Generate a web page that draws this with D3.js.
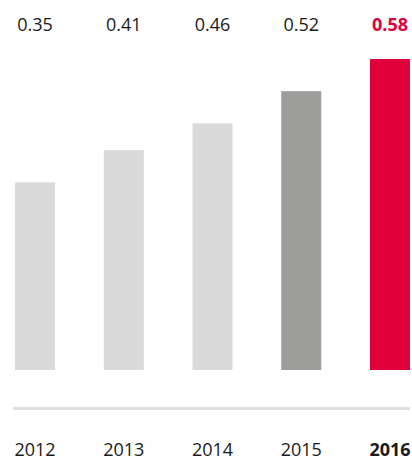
<!DOCTYPE html>
<html>
<head>
<meta charset="utf-8">
<script src="https://cdn.jsdelivr.net/npm/d3@7"></script>
<style>
  html, body { margin: 0; padding: 0; background: #fff; }
  svg { display: block; font-family: "Open Sans", sans-serif; }
</style>
</head>
<body>
<svg id="chart" width="412" height="460"></svg>
<script>
// Dividend per share by year
const years = ["2012", "2013", "2014", "2015", "2016"];
const values = [0.35, 0.41, 0.46, 0.52, 0.58];
const valueLabels = ["0.35", "0.41", "0.46", "0.52", "0.58"];

const colorFor = (i) => i === 4 ? "#e0003c" : (i === 3 ? "#9d9d9c" : "#dadada");
const textColor = (i) => i === 4 ? "#e0003c" : "#1a1a1a";

const svg = d3.select("#chart");

const x = d3.scaleBand()
  .domain(years)
  .range([15, 410])
  .paddingInner(0.549)
  .paddingOuter(0);

const y = d3.scaleLinear()
  .domain([0, 0.58])
  .range([370, 59]);

// bars
svg.selectAll("rect.bar")
  .data(values)
  .join("rect")
  .attr("class", "bar")
  .attr("x", (d, i) => x(years[i]))
  .attr("width", x.bandwidth())
  .attr("y", d => y(d))
  .attr("height", d => y(0) - y(d))
  .attr("fill", (d, i) => colorFor(i));

// value labels above
svg.selectAll("text.val")
  .data(valueLabels)
  .join("text")
  .attr("class", "val")
  .attr("x", (d, i) => x(years[i]) + x.bandwidth() / 2)
  .attr("y", 30.5)
  .attr("text-anchor", "middle")
  .attr("font-size", 18)
  .attr("font-weight", (d, i) => i === 4 ? 700 : 400)
  .attr("fill", (d, i) => textColor(i))
  .text(d => d);

// baseline rule
svg.append("line")
  .attr("x1", 13).attr("x2", 410)
  .attr("y1", 408.5).attr("y2", 408.5)
  .attr("stroke", "#e0e0e0")
  .attr("stroke-width", 3);

// year axis labels
const axis = d3.axisBottom(x).tickSize(0).tickPadding(0);
const g = svg.append("g").call(axis);
g.select(".domain").remove();
g.selectAll(".tick text")
  .attr("y", 455.5)
  .attr("dy", null)
  .attr("font-size", 18)
  .attr("font-family", "Open Sans, sans-serif")
  .attr("fill", "#1a1a1a")
  .attr("font-weight", (d, i) => i === 4 ? 700 : 400);
</script>
</body>
</html>
